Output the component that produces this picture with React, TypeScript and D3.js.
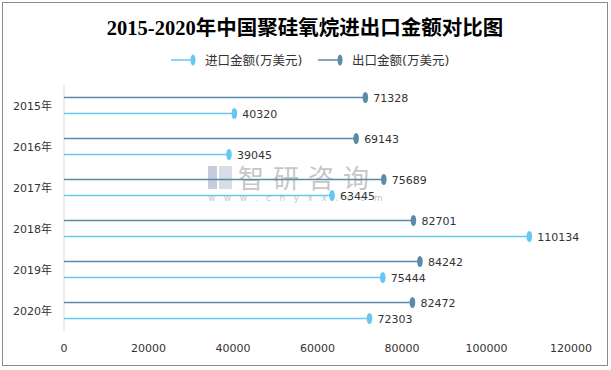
import React, { useEffect, useRef } from 'react'
import * as d3 from 'd3'

// 数据：2015-2020年中国聚硅氧烷进出口金额（万美元）
const years = ['2015年', '2016年', '2017年', '2018年', '2019年', '2020年']
const exportValues = [71328, 69143, 75689, 82701, 84242, 82472]
const importValues = [40320, 39045, 63445, 110134, 75444, 72303]
const xTicks = [0, 20000, 40000, 60000, 80000, 100000, 120000]
const seriesNames = ['进口金额(万美元)', '出口金额(万美元)']

const W = 611
const H = 370
const darkColor = '#5a8ba7'
const lightColor = '#66c8f0'
const font = '"DejaVu Sans", "Noto Sans CJK SC", sans-serif'

export default function App() {
  const ref = useRef<SVGSVGElement>(null)

  useEffect(() => {
    const svg = d3.select(ref.current)
    svg.selectAll('*').remove()

    // outer frame
    svg.append('rect')
      .attr('x', 2.5).attr('y', 2.5)
      .attr('width', 605).attr('height', 363)
      .attr('fill', '#fff')
      .attr('stroke', '#8c8c8c')
      .attr('stroke-width', 1)

    svg.append('text')
      .attr('x', 305).attr('y', 35)
      .attr('text-anchor', 'middle')
      .attr('font-family', '"Liberation Serif", "Noto Sans CJK SC", serif')
      .attr('font-weight', 'bold')
      .attr('font-size', 20.5)
      .attr('fill', '#000')
      .text('2015-2020年中国聚硅氧烷进出口金额对比图')

    // legend
    const legend = [
      { name: seriesNames[0], color: lightColor, x: 171 },
      { name: seriesNames[1], color: darkColor, x: 318 },
    ]
    legend.forEach(l => {
      const g = svg.append('g')
      g.append('line')
        .attr('x1', l.x).attr('x2', l.x + 22)
        .attr('y1', 60).attr('y2', 60)
        .attr('stroke', l.color).attr('stroke-width', 1.5)
      g.append('ellipse')
        .attr('cx', l.x + 22).attr('cy', 60)
        .attr('rx', 2.5).attr('ry', 5.5)
        .attr('fill', l.color)
      g.append('text')
        .attr('x', l.x + 34).attr('y', 64.5)
        .attr('font-family', font).attr('font-size', 12.5)
        .attr('fill', '#333')
        .text(l.name)
    })

    const x = d3.scaleLinear().domain([0, 120000]).range([64, 571])
    const y = d3.scaleBand().domain(years).range([85, 331])

    // watermark
    const wm = svg.append('g').attr('opacity', 0.55)
    wm.append('rect').attr('x', 208).attr('y', 166).attr('width', 9).attr('height', 23).attr('fill', '#9aa6c0')
    wm.append('rect').attr('x', 219).attr('y', 166).attr('width', 13).attr('height', 23).attr('fill', '#b7c0d3')
    wm.append('text')
      .attr('x', 238).attr('y', 188)
      .attr('font-family', '"Noto Sans CJK SC", sans-serif')
      .attr('font-size', 26).attr('letter-spacing', 9)
      .attr('fill', '#999')
      .text('智研咨询')
    wm.append('text')
      .attr('x', 208).attr('y', 201)
      .attr('font-family', font).attr('font-size', 9)
      .attr('letter-spacing', 8.5)
      .attr('fill', '#999')
      .text('www.chyxx.com')

    // y axis line
    svg.append('line')
      .attr('x1', 64).attr('x2', 64)
      .attr('y1', 85).attr('y2', 331)
      .attr('stroke', '#d9d9d9')

    // y labels
    svg.selectAll('.ylab')
      .data(years)
      .enter()
      .append('text')
      .attr('x', 52)
      .attr('y', d => (y(d) as number) + y.bandwidth() / 2 + 4)
      .attr('text-anchor', 'end')
      .attr('font-family', font).attr('font-size', 11)
      .attr('fill', '#333')
      .text(d => d)

    // x labels
    svg.selectAll('.xlab')
      .data(xTicks)
      .enter()
      .append('text')
      .attr('x', d => x(d))
      .attr('y', 352)
      .attr('text-anchor', 'middle')
      .attr('font-family', font).attr('font-size', 11)
      .attr('fill', '#333')
      .text(d => String(d))

    const series = [
      { values: exportValues, color: darkColor, off: -8 },
      { values: importValues, color: lightColor, off: 8 },
    ]
    series.forEach(s => {
      const g = svg.append('g')
      const cy = (i: number) => (y(years[i]) as number) + y.bandwidth() / 2 + s.off
      g.selectAll('line')
        .data(s.values)
        .enter()
        .append('line')
        .attr('x1', x(0))
        .attr('x2', d => x(d))
        .attr('y1', (d, i) => cy(i))
        .attr('y2', (d, i) => cy(i))
        .attr('stroke', s.color)
        .attr('stroke-width', 1.5)
      g.selectAll('ellipse')
        .data(s.values)
        .enter()
        .append('ellipse')
        .attr('cx', d => x(d))
        .attr('cy', (d, i) => cy(i))
        .attr('rx', 2.8).attr('ry', 5.5)
        .attr('fill', s.color)
      g.selectAll('text')
        .data(s.values)
        .enter()
        .append('text')
        .attr('x', d => x(d) + 8)
        .attr('y', (d, i) => cy(i) + 4)
        .attr('font-family', font).attr('font-size', 11)
        .attr('fill', '#333')
        .text(d => String(d))
    })
  }, [])

  return (
    <svg ref={ref} width={W} height={H} style={{ position: 'absolute', left: 0, top: 0 }} />
  )
}
